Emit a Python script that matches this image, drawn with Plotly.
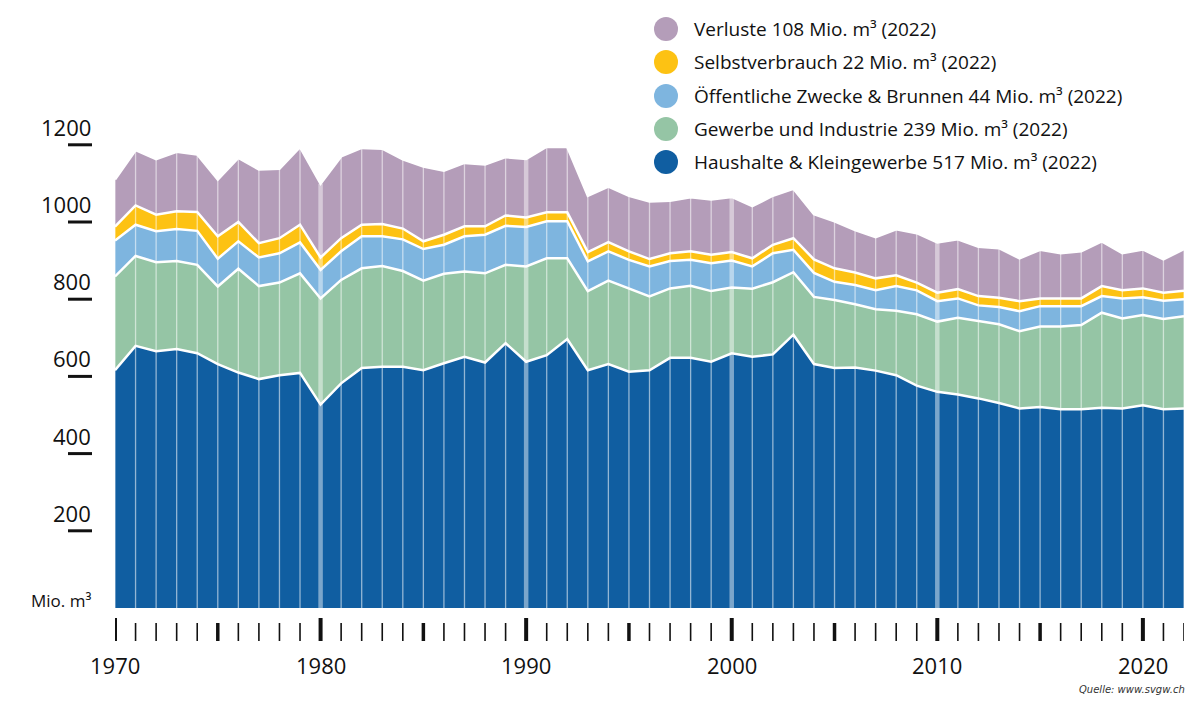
import plotly.graph_objects as go

# Wasserverbrauch Schweiz, Mio. m3 pro Jahr
years = list(range(1970, 2023))

haushalte = [616, 679, 665, 671, 660, 632, 610, 593, 603, 609,
             527, 582, 622, 625, 625, 616, 634, 651, 636, 686,
             638, 655, 697, 616, 632, 612, 616, 648, 648, 638,
             660, 651, 657, 708, 632, 622, 623, 615, 603, 576,
             560, 553, 543, 531, 517, 521, 515, 515, 519, 517,
             525, 515, 517]
gewerbe = [243, 233, 231, 228, 229, 201, 269, 241, 240, 258,
           275, 268, 258, 261, 248, 232, 232, 221, 231, 203,
           247, 251, 209, 205, 216, 216, 191, 180, 187, 183,
           170, 176, 187, 162, 174, 176, 164, 159, 167, 185,
           182, 199, 200, 204, 200, 208, 214, 218, 246, 233,
           234, 234, 239]
oeffentlich = [93, 81, 80, 83, 88, 72, 71, 74, 76, 80,
               74, 74, 83, 77, 82, 82, 75, 91, 100, 101,
               102, 96, 96, 77, 76, 74, 78, 71, 67, 72,
               70, 58, 75, 58, 62, 47, 50, 49, 64, 62,
               53, 50, 41, 45, 52, 53, 53, 49, 43, 52,
               46, 47, 44]
selbst = [36, 50, 43, 46, 49, 58, 50, 37, 39, 46,
          32, 34, 30, 32, 28, 20, 26, 26, 22, 27,
          25, 23, 23, 24, 24, 22, 19, 20, 22, 22,
          22, 21, 22, 30, 35, 35, 32, 31, 28, 20,
          22, 24, 24, 24, 26, 20, 20, 20, 26, 21,
          23, 21, 22]
verluste = [122, 143, 144, 154, 149, 147, 166, 191, 180, 201,
            191, 212, 199, 195, 179, 194, 166, 164, 160, 151,
            151, 170, 169, 146, 144, 144, 149, 136, 140, 143,
            143, 135, 127, 128, 117, 122, 110, 107, 119, 128,
            130, 129, 128, 128, 111, 126, 117, 122, 116, 96,
            101, 86, 108]

y_ticks = [200, 400, 600, 800, 1000, 1200]
decades = [1970, 1980, 1990, 2000, 2010, 2020]

series = [
    ("Haushalte & Kleingewerbe", haushalte, "#105EA1"),
    ("Gewerbe und Industrie", gewerbe, "#95C5A5"),
    ("Öffentliche Zwecke & Brunnen", oeffentlich, "#7EB5DF"),
    ("Selbstverbrauch", selbst, "#FDC213"),
    ("Verluste", verluste, "#B49DB9"),
]

FONT = "Open Sans"
# plot area in pixels: x 115..1184, y 29..608
L, R, T, B = 115, 1184, 29, 608


def px_x(px):
    return (px - L) / (R - L)


def px_y(py):
    return (B - py) / (B - T)


fig = go.Figure()

for name, vals, col in series:
    fig.add_trace(go.Scatter(
        x=years, y=vals, name=name, stackgroup="one", mode="lines",
        line=dict(color="white", width=2.5), fillcolor=col,
        showlegend=False, hoverinfo="skip"
    ))

# thin white year lines over the areas
totals = [sum(v) for v in zip(haushalte, gewerbe, oeffentlich, selbst, verluste)]
lx, ly, dx, dy = [], [], [], []
for yr, tot in zip(years, totals):
    if yr % 10 == 0 and yr not in (1970, 2020):
        dx += [yr, yr, None]
        dy += [0, tot, None]
    else:
        lx += [yr, yr, None]
        ly += [0, tot, None]
fig.add_trace(go.Scatter(x=lx, y=ly, mode="lines", showlegend=False, hoverinfo="skip",
                         line=dict(color="rgba(255,255,255,0.55)", width=1.3)))
fig.add_trace(go.Scatter(x=dx, y=dy, mode="lines", showlegend=False, hoverinfo="skip",
                         line=dict(color="rgba(255,255,255,0.45)", width=4.5)))

# y ticks: short bars with the label above
for v in y_ticks:
    fig.add_shape(type="line", xref="paper", yref="y",
                  x0=px_x(68), x1=px_x(92), y0=v, y1=v,
                  line=dict(color="#111111", width=3))
    fig.add_annotation(xref="paper", yref="y", x=px_x(93), y=v, yshift=18,
                       text=str(v), showarrow=False, xanchor="right", yanchor="middle",
                       font=dict(family=FONT, size=22, color="#111111"))

fig.add_annotation(xref="paper", yref="paper", x=px_x(93), y=px_y(600),
                   text="Mio. m³", showarrow=False, xanchor="right", yanchor="middle",
                   font=dict(family=FONT, size=17, color="#111111"))

# x ticks below the chart
for yr in years:
    if yr % 10 == 0:
        y0, w = 618, 4
    elif yr % 5 == 0:
        y0, w = 623, 3.5
    else:
        y0, w = 623, 1.6
    fig.add_shape(type="line", xref="x", yref="paper", x0=yr, x1=yr,
                  y0=px_y(y0), y1=px_y(641), line=dict(color="#111111", width=w))

for yr in decades:
    fig.add_annotation(xref="x", yref="paper", x=yr, y=px_y(665), text=str(yr),
                       showarrow=False, xanchor="center", yanchor="middle",
                       font=dict(family=FONT, size=22, color="#111111"))

# legend drawn by hand (circles + text), top item = top layer
leg_y = [29, 62, 96, 129, 162]
for (name, vals, col), yy in zip(reversed(series), leg_y):
    r = 12
    fig.add_shape(type="circle", xref="paper", yref="paper",
                  x0=px_x(666 - r), x1=px_x(666 + r), y0=px_y(yy + r), y1=px_y(yy - r),
                  fillcolor=col, line=dict(width=0))
    fig.add_annotation(xref="paper", yref="paper", x=px_x(692), y=px_y(yy),
                       text=f"{name} {vals[-1]} Mio. m³ (2022)", showarrow=False,
                       xanchor="left", yanchor="middle",
                       font=dict(family=FONT, size=19, color="#111111"))

fig.add_annotation(xref="paper", yref="paper", x=px_x(1187), y=px_y(689),
                   text="<i>Quelle: www.svgw.ch</i>", showarrow=False,
                   xanchor="right", yanchor="middle",
                   font=dict(family="DejaVu Sans", size=10, color="#333333"))

fig.update_layout(
    width=1200, height=703,
    margin=dict(l=L, r=1200 - R, t=T, b=703 - B),
    plot_bgcolor="white", paper_bgcolor="white",
    xaxis=dict(range=[1970, 2022], showgrid=False, zeroline=False,
               showticklabels=False, ticks="", showline=False, fixedrange=True),
    yaxis=dict(range=[0, 1500], showgrid=False, zeroline=False,
               showticklabels=False, ticks="", showline=False, fixedrange=True),
    showlegend=False,
    hovermode=False,
)

fig.write_html("out.html", config={"displayModeBar": False},
               post_script="document.body.style.margin='0';")
